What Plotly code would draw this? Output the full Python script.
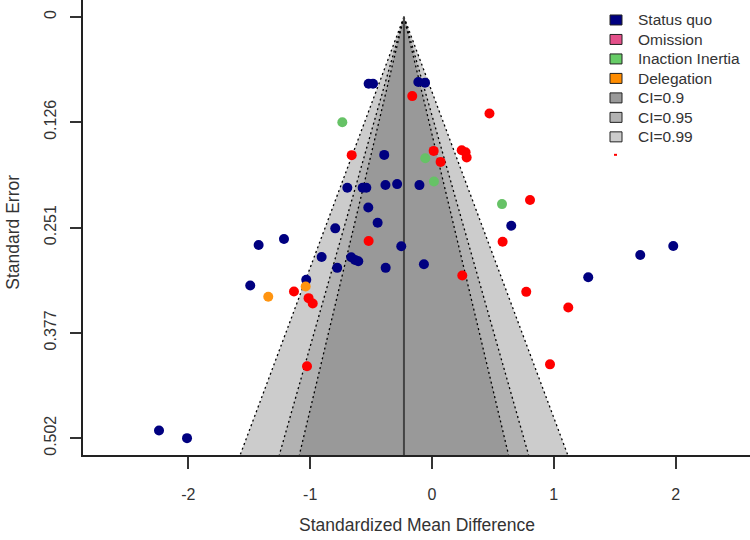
import plotly.graph_objects as go
from statistics import NormalDist

# ---------------- data ----------------
status_quo_smd = [-0.520, -0.484, -0.112, -0.057, -0.392, -0.695, -0.569, -0.539, -0.382, -0.286,
                  -0.103, -0.523, -0.446, -0.794, -1.215, -1.423, -0.252, -0.906, -0.663, -0.632,
                  -0.605, -0.778, -0.380, -0.066, -1.032, -1.492, -2.241, -2.011, 0.651, 1.981,
                  1.710, 1.283]
status_quo_se = [0.0796, 0.0796, 0.0777, 0.0784, 0.1645, 0.2037, 0.2037, 0.2037, 0.2003, 0.1993,
                 0.2005, 0.2272, 0.2453, 0.2520, 0.2647, 0.2718, 0.2734, 0.2861, 0.2864, 0.2896,
                 0.2912, 0.2991, 0.2991, 0.2947, 0.3134, 0.3202, 0.4929, 0.5020, 0.2489, 0.2730,
                 0.2837, 0.3102]

omission_smd = [-0.162, 0.472, -0.659, 0.014, 0.071, 0.244, 0.276, 0.285, 0.805, -0.520,
                0.580, 0.249, -1.133, -1.013, -0.979, 0.774, 1.119, -1.026, 0.969]
omission_se = [0.0944, 0.1152, 0.1648, 0.1597, 0.1728, 0.1589, 0.1613, 0.1676, 0.2183, 0.2671,
               0.2679, 0.3083, 0.3273, 0.3352, 0.3416, 0.3277, 0.3463, 0.4164, 0.4141]

inertia_smd = [-0.736, -0.055, 0.016, 0.575]
inertia_se = [0.1256, 0.1684, 0.1961, 0.2231]

delegation_smd = [-1.037, -1.344]
delegation_se = [0.3214, 0.3336]

pooled_estimate = -0.23
ci_levels = [0.99, 0.95, 0.90]
se_ticks = [0, 0.1255, 0.251, 0.3765, 0.502]
se_tick_labels = ["0", "0.126", "0.251", "0.377", "0.502"]
smd_ticks = [-2, -1, 0, 1, 2]

legend_labels = ["Status quo", "Omission", "Inaction Inertia", "Delegation", "CI=0.9", "CI=0.95", "CI=0.99"]
legend_colors = ["#000080", "#E4508A", "#66CC66", "#FF8C00", "#999999", "#B2B2B2", "#CCCCCC"]

# ---------------- styling ----------------
FONT = "Liberation Sans, Arial, Helvetica, sans-serif"
TXT = "#333333"
Y_RANGE = [0.5221, -0.0201]
X_RANGE = [-2.865, 2.611]
shade = {0.99: "#CCCCCC", 0.95: "#B2B2B2", 0.90: "#999999"}

L, T, W, H = 83, 0, 667, 455.5
def px(x):
    return (x - L) / W
def py(y):
    return 1 - (y - T) / H

fig = go.Figure()

se_bottom = Y_RANGE[0]
for lvl in ci_levels:
    z = NormalDist().inv_cdf(0.5 + lvl / 2)
    xs = [pooled_estimate - z * se_bottom, pooled_estimate, pooled_estimate + z * se_bottom]
    ys = [se_bottom, 0, se_bottom]
    fig.add_trace(go.Scatter(x=xs, y=ys, fill="toself", fillcolor=shade[lvl], mode="lines",
                             line=dict(width=0), showlegend=False, hoverinfo="skip"))
for lvl in ci_levels:
    z = NormalDist().inv_cdf(0.5 + lvl / 2)
    for sgn in (-1, 1):
        fig.add_trace(go.Scatter(x=[pooled_estimate, pooled_estimate + sgn * z * se_bottom], y=[0, se_bottom],
                                 mode="lines", line=dict(color="black", width=1.3, dash="2px,3px"),
                                 showlegend=False, hoverinfo="skip"))
fig.add_trace(go.Scatter(x=[pooled_estimate, pooled_estimate], y=[0, se_bottom], mode="lines",
                         line=dict(color="#444444", width=2), showlegend=False, hoverinfo="skip"))

def pts(xv, yv, color, name):
    fig.add_trace(go.Scatter(x=xv, y=yv, mode="markers", name=name, showlegend=False,
                             marker=dict(color=color, size=10, line=dict(width=0))))

pts(omission_smd, omission_se, "#FF0000", "Omission")
pts(status_quo_smd, status_quo_se, "#000080", "Status quo")
pts(inertia_smd, inertia_se, "#66C266", "Inaction Inertia")
pts(delegation_smd, delegation_se, "#FF9410", "Delegation")

# manual legend (R-style boxes)
shapes = []
annotations = []
for i, (lab, col) in enumerate(zip(legend_labels, legend_colors)):
    yc = 20 + 19.5 * i
    shapes.append(dict(type="rect", xref="paper", yref="paper",
                       x0=px(610), x1=px(622), y0=py(yc + 5), y1=py(yc - 5),
                       fillcolor=col, line=dict(color="#222222", width=1)))
    annotations.append(dict(text=lab, xref="paper", yref="paper", x=px(636), y=py(yc),
                            xanchor="left", yanchor="middle", showarrow=False,
                            font=dict(family=FONT, size=15.5, color=TXT)))
# small red mark under legend
shapes.append(dict(type="line", xref="paper", yref="paper", x0=px(614), x1=px(617),
                   y0=py(155), y1=py(155), line=dict(color="#FF0000", width=2)))

annotations.append(dict(text="Standardized Mean Difference", xref="paper", yref="paper",
                        x=px(417), y=py(526), xanchor="center", yanchor="middle", showarrow=False,
                        font=dict(family=FONT, size=17.5, color=TXT)))
annotations.append(dict(text="Standard Error", xref="paper", yref="paper",
                        x=px(13), y=py(233), xanchor="center", yanchor="middle", showarrow=False,
                        textangle=-90, font=dict(family=FONT, size=17.5, color=TXT)))

fig.update_layout(
    width=750, height=540,
    margin=dict(l=L, r=0, t=T, b=540 - H, autoexpand=False),
    plot_bgcolor="white", paper_bgcolor="white",
    font=dict(family=FONT, size=16, color=TXT),
    showlegend=False,
    shapes=shapes, annotations=annotations,
    xaxis=dict(range=X_RANGE, tickvals=smd_ticks, ticktext=[str(v) for v in smd_ticks],
               automargin=False,
               showgrid=False, zeroline=False, showline=True, linecolor="#222222", linewidth=1.5,
               ticks="outside", ticklen=12, tickwidth=1.5, tickcolor="#333333",
               ticklabelstandoff=12, tickfont=dict(size=16)),
    yaxis=dict(range=Y_RANGE, tickvals=se_ticks, ticktext=se_tick_labels,
               automargin=False,
               showgrid=False, zeroline=False, showline=True, linecolor="#222222", linewidth=1.5,
               ticks="outside", ticklen=11, tickwidth=1.5, tickcolor="#333333",
               tickangle=-90, ticklabelstandoff=8, tickfont=dict(size=16)),
)

fig.write_html("out.html", config={"displayModeBar": False},
               post_script="document.body.style.margin='0';document.body.style.overflow='hidden';")
